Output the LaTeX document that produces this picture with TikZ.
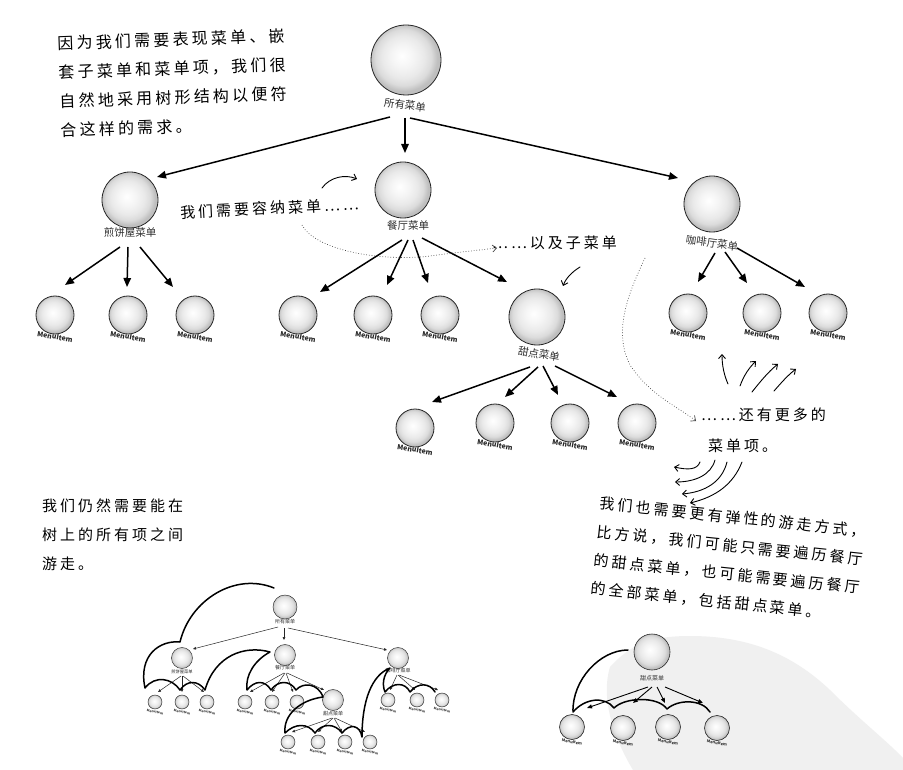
\documentclass[tikz,border=0pt]{standalone}
\usepackage{fontspec}
\setmainfont{Noto Sans CJK SC}
\newfontfamily\hand[LetterSpace=20]{Noto Sans CJK SC}
\usetikzlibrary{arrows.meta,calc}
\pgfdeclareradialshading{sphere}{\pgfpoint{-3bp}{3bp}}{%
 color(0bp)=(white); color(8bp)=(gray!8); color(15bp)=(gray!17); color(20bp)=(gray!28); color(24bp)=(gray!50); color(50bp)=(gray!55)}
\tikzset{
  sph/.style={circle, draw=gray!30!black, line width=0.8pt, shading=sphere, inner sep=0pt, minimum size=#1},
  msph/.style={sph=#1, line width=0.45pt},
  lbl/.style={font=\fontsize{10.5}{11}\selectfont, text=gray!35!black, inner sep=0pt},
  mlbl/.style={font=\fontsize{5}{5}\selectfont, text=gray!35!black, inner sep=0pt},
  mi/.style={font=\fontsize{7}{8}\selectfont\bfseries, text=black!85, inner sep=0pt, rotate=-10},
  mmi/.style={font=\fontsize{3.2}{3.5}\selectfont\bfseries, text=black!80, inner sep=0pt, rotate=-10},
  arr/.style={line width=1.5pt, -{Triangle[length=9pt,width=7.5pt]}},
  marr/.style={line width=0.5pt, gray!30!black, -{Triangle[length=3pt,width=2.6pt]}},
  rarr/.style={line width=0.9pt, -{Triangle[length=5pt,width=4pt]}},
  sk/.style={line width=0.9pt, line cap=round, -{Straight Barb[length=4pt,width=7pt]}},
  dt/.style={dotted, line width=0.7pt, gray!55!black, -{Straight Barb[length=4pt,width=7pt]}},
  hw/.style={font=\hand\fontsize{15}{29}\selectfont, inner sep=0pt, align=left},
  trav/.style={line width=1.5pt, line cap=round, line join=round},
}
\begin{document}
\begin{tikzpicture}[x=1pt,y=-1pt]
\useasboundingbox (0,0) rectangle (903,770);
\fill[white] (0,0) rectangle (903,770);
% watermark blob
\fill[gray!12] (610,667) .. controls (630,645) and (650,636) .. (690,636)
  .. controls (745,636) and (790,652) .. (830,690)
  .. controls (860,720) and (888,742) .. (903,758) -- (903,770) -- (633,770)
  .. controls (615,740) and (600,700) .. (610,667) -- cycle;

% ===== main tree =====
\node[sph=70pt] (root) at (406,60) {};
\node[lbl, rotate=-8] (rootl) at (405,105) {所有菜单};
\node[sph=56pt] (pan) at (130,200) {};
\node[lbl] (panl) at (130,233) {煎饼屋菜单};
\node[sph=56pt] (din) at (403,190) {};
\node[lbl] (dinl) at (408,226) {餐厅菜单};
\node[sph=56pt] (cafe) at (712,204) {};
\node[lbl, rotate=-8] (cafel) at (712,243) {咖啡厅菜单};
\node[sph=56pt] (des) at (537,317) {};
\node[lbl, rotate=-10] (desl) at (539,354) {甜点菜单};
\foreach \n/\x/\y in {p1/55/315, p2/128/315, p3/195/315, d1/298/315, d2/373/315, d3/440/315,
  c1/688/313, c2/762/313, c3/828/313, e1/415/428, e2/495/423, e3/570/423, e4/637/423}{
  \node[sph=38pt] (\n) at (\x,\y) {};
  \node[mi] (\n-l) at (\x,\y+22) {MenuItem};
}
% arrows
\draw[arr] ($(root)+(-16,57)$) -- ($(pan)+(27,-23)$);
\draw[arr] ($(root)+(-1,58)$) -- ($(din)+(2,-37)$);
\draw[arr] ($(root)+(4,58)$) -- ($(cafe)+(-34,-26)$);
\draw[arr] ($(pan)+(-10,47)$) -- ($(p1)+(10,-30)$);
\draw[arr] ($(pan)+(-2,47)$) -- ($(p2)+(-1,-28)$);
\draw[arr] ($(pan)+(10,47)$) -- ($(p3)+(-22,-28)$);
\draw[arr] ($(din)+(-1,50)$) -- ($(d1)+(22,-23)$);
\draw[arr] ($(din)+(5,50)$) -- ($(d2)+(14,-30)$);
\draw[arr] ($(din)+(10,50)$) -- ($(d3)+(-12,-32)$);
\draw[arr] ($(din)+(19,48)$) -- ($(des)+(-30,-35)$);
\draw[arr] ($(cafe)+(3,49)$) -- ($(c1)+(10,-31)$);
\draw[arr] ($(cafe)+(13,48)$) -- ($(c2)+(-15,-30)$);
\draw[arr] ($(cafe)+(25,44)$) -- ($(c3)+(-23,-26)$);
\draw[arr] ($(des)+(-7,50)$) -- ($(e1)+(17,-26)$);
\draw[arr] ($(des)+(1,50)$) -- ($(e2)+(10,-26)$);
\draw[arr] ($(des)+(6,49)$) -- ($(e3)+(-12,-28)$);
\draw[arr] ($(des)+(18,49)$) -- ($(e4)+(-20,-26)$);

% ===== annotations =====
\node[hw, font=\hand\fontsize{16}{29}\selectfont, anchor=north west, rotate=2] (t1) at (57,36)
  {因为我们需要表现菜单、嵌\\套子菜单和菜单项，我们很\\自然地采用树形结构以便符\\合这样的需求。};
\node[hw, anchor=west, rotate=3] (t2) at (180,213) {我们需要容纳菜单……};
\node[hw, anchor=west] (t3) at (492,243) {……以及子菜单};
\node[hw, anchor=west] (t4) at (701,415) {……还有更多的};
\node[hw, anchor=west] (t5) at (708,446) {菜单项。};
\node[hw, anchor=north west] (t6) at (42,499) {我们仍然需要能在\\树上的所有项之间\\游走。};
\node[hw, font=\hand\fontsize{15}{28.5}\selectfont, anchor=north west, rotate=-6] (t7) at (601,496)
  {我们也需要更有弹性的游走方式，\\比方说，我们可能只需要遍历餐厅\\的甜点菜单，也可能需要遍历餐厅\\的全部菜单，包括甜点菜单。};

\draw[sk] (322,188) .. controls (330,177) and (345,174) .. (357,179);
\draw[dt] (302,225) .. controls (315,250) and (380,262) .. (430,256) .. controls (460,252) and (480,250) .. (497,248);
\draw[sk] (580,267) .. controls (572,272) and (566,278) .. (563,286);
\draw[dt] (645,258) .. controls (630,290) and (612,330) .. (630,365) .. controls (650,395) and (675,405) .. (696,421);
\draw[sk] (728,384) .. controls (724,375) and (722,365) .. (722,354);
\draw[sk] (740,386) .. controls (744,375) and (749,368) .. (756,361);
\draw[sk] (752,392) .. controls (760,382) and (768,372) .. (778,364);
\draw[sk] (774,391) .. controls (781,383) and (788,375) .. (796,369);
\draw[sk] (700,462) .. controls (697,470) and (688,470) .. (674,467);
\draw[sk] (715,460) .. controls (711,475) and (695,482) .. (675,482);
\draw[sk] (727,462) .. controls (722,482) and (705,492) .. (682,494);
\draw[sk] (742,462) .. controls (733,485) and (715,497) .. (690,503);

% ===== mini tree (left) =====
\node[msph=24pt] (mr) at (285,607) {};
\node[mlbl] (mrl) at (285,622) {所有菜单};
\node[msph=21pt] (mp) at (182,658) {};
\node[mlbl, font=\fontsize{4.3}{5}\selectfont] (mpl) at (182,672) {煎饼屋菜单};
\node[msph=21pt] (md) at (285,655) {};
\node[mlbl] (mdl) at (285,668) {餐厅菜单};
\node[msph=21pt] (mc) at (398,658) {};
\node[mlbl] (mcl) at (398,671) {咖啡厅菜单};
\node[msph=21pt] (mds) at (333,700) {};
\node[mlbl] (mdsl) at (333,714) {甜点菜单};
\foreach \n/\x/\y in {mp1/155/702, mp2/182/702, mp3/207/702, md1/245/702, md2/272/702, md3/297/702,
  me1/288/742, me2/318/742, me3/345/742, me4/370/742, mc1/388/700, mc2/417/700, mc3/442/700}{
  \node[msph=14pt] (\n) at (\x,\y) {};
  \node[mmi] (\n-l) at (\x,\y+10) {MenuItem};
}
\draw[marr] ($(mr)+(-7,20)$) -- ($(mp)+(11,-9)$);
\draw[marr] ($(mr)+(-1,21)$) -- ($(md)+(-1,-15)$);
\draw[marr] ($(mr)+(3,21)$) -- ($(mc)+(-11,-8)$);
\draw[marr] ($(mp)+(-1,18)$) -- ($(mp1)+(3,-10)$);
\draw[marr] ($(mp)+(0,18)$) -- ($(mp2)+(0,-10)$);
\draw[marr] ($(mp)+(1,18)$) -- ($(mp3)+(-3,-10)$);
\draw[marr] ($(md)+(-1,18)$) -- ($(md1)+(5,-10)$);
\draw[marr] ($(md)+(0,18)$) -- ($(md2)+(0,-10)$);
\draw[marr] ($(md)+(1,18)$) -- ($(md3)+(-4,-10)$);
\draw[marr] ($(md)+(2,18)$) -- ($(mds)+(-9,-10)$);
\draw[marr] ($(mds)+(-1,18)$) -- ($(me1)+(4,-10)$);
\draw[marr] ($(mds)+(0,18)$) -- ($(me2)+(0,-10)$);
\draw[marr] ($(mds)+(1,18)$) -- ($(me3)+(-3,-10)$);
\draw[marr] ($(mds)+(2,18)$) -- ($(me4)+(-5,-10)$);
\draw[marr] ($(mc)+(-1,17)$) -- ($(mc1)+(2,-10)$);
\draw[marr] ($(mc)+(0,17)$) -- ($(mc2)+(-2,-10)$);
\draw[marr] ($(mc)+(1,17)$) -- ($(mc3)+(-4,-10)$);
% traversal
\draw[trav] (274,588) .. controls (235,572) and (190,600) .. (180,642)
  .. controls (160,640) and (138,655) .. (145,688)
  .. controls (155,675) and (172,678) .. (180,690)
  .. controls (187,680) and (198,680) .. (205,690)
  .. controls (215,655) and (245,645) .. (270,652)
  .. controls (255,660) and (245,675) .. (247,690)
  .. controls (255,680) and (265,680) .. (271,690)
  .. controls (278,680) and (290,680) .. (296,690)
  .. controls (303,682) and (318,683) .. (323,697)
  .. controls (300,700) and (283,715) .. (285,733)
  .. controls (295,723) and (308,723) .. (315,733)
  .. controls (322,723) and (335,723) .. (342,733)
  .. controls (350,723) and (360,725) .. (362,737)
  .. controls (362,700) and (372,675) .. (390,668)
  .. controls (383,675) and (382,685) .. (385,692)
  .. controls (393,682) and (405,682) .. (410,692)
  .. controls (418,682) and (430,683) .. (435,692);

% ===== mini tree (right) =====
\node[msph=36pt, line width=0.6pt] (rd) at (652,652) {};
\node[mlbl, font=\fontsize{6}{6}\selectfont] (rdl) at (652,678) {甜点菜单};
\foreach \n/\x/\y in {rk1/572/727, rk2/623/728, rk3/668/727, rk4/717/728}{
  \node[msph=25pt, line width=0.6pt] (\n) at (\x,\y) {};
  \node[mmi, font=\fontsize{4}{4}\selectfont\bfseries] (\n-l) at (\x,\y+15) {MenuItem};
}
\draw[rarr] ($(rd)+(-4,35)$) -- ($(rk1)+(15,-19)$);
\draw[rarr] ($(rd)+(0,35)$) -- ($(rk2)+(10,-25)$);
\draw[rarr] ($(rd)+(5,35)$) -- ($(rk3)+(-3,-24)$);
\draw[rarr] ($(rd)+(13,35)$) -- ($(rk4)+(-14,-25)$);
\draw[trav] (628,650) .. controls (600,650) and (572,680) .. (573,712)
  .. controls (585,698) and (605,696) .. (614,708)
  .. controls (625,697) and (658,696) .. (667,709)
  .. controls (678,699) and (702,699) .. (710,712);
\end{tikzpicture}
\end{document}
